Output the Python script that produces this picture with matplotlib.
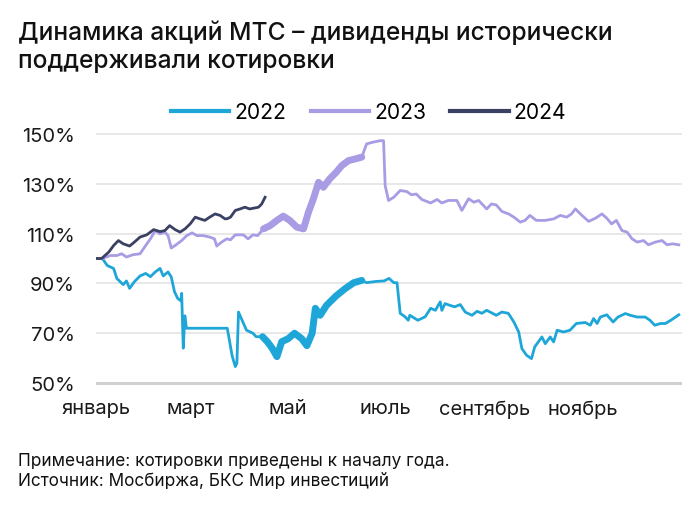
import matplotlib
matplotlib.use("Agg")
import matplotlib.pyplot as plt
import numpy as np

plt.rcParams['font.family'] = ['Inter', 'DejaVu Sans']

# day of year -> price relative to start of year, %
days_2022 = [0, 4, 7, 11, 13, 17, 19, 21, 24, 27.5, 31, 34, 37, 40, 42, 45, 47, 49, 51, 53, 53.5,
             54.5, 55.5, 56.5, 82, 85, 87, 88, 89, 94, 98, 100, 104, 107, 110, 113, 116, 120, 124,
             128.5, 131.7, 135, 137, 140, 144, 150, 155.6, 161, 166, 169, 175, 180, 183, 186, 188,
             190, 193, 195, 196, 201, 205.6, 209, 212, 215, 216, 218, 221, 224, 227.5, 230.6, 234.8,
             238, 241, 244, 247, 250, 253.5, 257.5, 261, 264, 266, 269, 272, 274, 278.5, 280.6,
             283.7, 285.8, 288, 292, 296, 300, 305.6, 308.7, 310.8, 313, 315, 319, 323, 326, 330.6,
             333.7, 338, 343, 346, 349, 352.5, 355.6, 359, 362, 364]
vals_2022 = [100, 100, 97.2, 96, 92, 89.5, 91, 88, 90.7, 93, 94, 92.7, 94.6, 96, 93, 94.6, 92.6, 86.7,
             84, 83, 86, 64, 77, 72, 72, 61, 56.6, 58, 78.5, 71.2, 70, 68.6, 68.6, 66.6, 64, 60.6,
             66.6, 67.8, 70, 67.8, 65, 70, 80, 77.2, 81.2, 85, 87.9, 90.3, 91.2, 90.3, 90.8, 91, 92,
             90.3, 90.3, 78, 76.6, 75.2, 77.2, 75.2, 76.6, 80, 79.2, 82.6, 79.2, 81.9, 81.2, 80.6,
             81.5, 78.5, 77.2, 78.8, 78, 79.2, 78.2, 77.2, 78.5, 78, 74.5, 70.5, 63.8, 61.1, 59.8,
             64.5, 68.5, 65.8, 68.5, 66.5, 71.2, 70.5, 71.2, 73.9, 74.3, 73.2, 75.9, 73.9, 76.5,
             77.4, 74.5, 76.5, 77.9, 77.2, 76.5, 76.5, 75.2, 73.2, 73.9, 73.9, 75.2, 76.5, 77.4]

days_2023 = [0, 4, 9, 13, 16, 19, 23, 27.5, 31, 34, 37, 40, 43, 45, 47, 50, 53.5, 56.7, 60, 63, 67,
             71, 74, 75.4, 78.5, 81.7, 84, 87, 92, 95, 98, 101, 104.6, 108.7, 113, 117, 121, 125.4,
             129.6, 132.7, 135.8, 139, 142, 146, 150, 153.5, 157.7, 162, 166, 169, 173, 177.5,
             179.6, 180.6, 182.7, 186, 190, 194, 197, 200, 203.5, 209, 213, 216, 220, 225.4, 228.5,
             232.7, 236, 239, 244, 247, 250, 253.5, 257.7, 261, 265, 268, 271, 275, 280.6, 285.8,
             290, 294, 297, 299.4, 303.5, 307.7, 312, 316, 319, 322, 325, 328.5, 331.7, 334.8, 338,
             342, 345, 349.4, 353.5, 356.7, 360, 364]
vals_2023 = [100, 100, 101.2, 101.2, 101.9, 100.6, 101.5, 101.9, 105.2, 107.9, 111.2, 109.9, 110.6,
             109.2, 104.2, 105.5, 107.2, 109.2, 110.3, 109.2, 109.2, 108.6, 107.9, 105, 106.6,
             107.9, 107.5, 109.5, 109.5, 107.9, 109.5, 109.2, 111.9, 113.2, 115.3, 117, 115.3, 112.6,
             111.9, 118.6, 124, 130.6, 128.6, 132, 134.6, 137.3, 139.3, 140, 140.7, 146, 146.7,
             147.3, 147.3, 129.3, 123.3, 124.6, 127.3, 126.9, 125.6, 125.9, 123.7, 122.3, 123.7,
             122.3, 123.3, 123.3, 119.3, 124, 122.6, 123.3, 119.9, 121.9, 121.5, 118.9, 117.9,
             116.6, 114.6, 115.3, 117.3, 115.3, 115.3, 115.9, 117.3, 116.6, 117.9, 119.9, 117.3,
             114.9, 116.2, 117.9, 116.2, 113.9, 115.3, 111.2, 110.6, 107.9, 106.6, 107.2, 105.5,
             106.6, 107.2, 105.5, 105.9, 105.5]

days_2024 = [0, 3.5, 8, 11, 14, 17, 21, 24, 27.5, 31.7, 36, 40, 43, 46, 49.4, 52.5, 55.6, 58.8, 62,
             65, 68, 71, 74.4, 77.5, 80.6, 82, 84, 87, 90, 93, 96, 101.5, 103.5, 105.6]
vals_2024 = [100, 100, 102.6, 105.2, 107.2, 105.9, 105, 106.6, 108.6, 109.5, 111.6, 110.8, 111.2,
             113.2, 111.6, 110.6, 111.9, 113.9, 116.6, 115.9, 115.3, 116.6, 117.9, 117.3, 115.9,
             116, 116.6, 119.3, 119.9, 120.6, 119.9, 120.6, 121.9, 124.6]

month_days = [0, 59, 120, 181, 243, 304]
month_labels = ['январь', 'март', 'май', 'июль', 'сентябрь', 'ноябрь']
y_ticks = [50, 70, 90, 110, 130, 150]

c22 = '#1fa6d8'
c23 = '#a99be4'
c24 = '#3b4162'

fig = plt.figure(figsize=(7, 5.06), dpi=100)
ax = fig.add_axes([96 / 700, 0.2312, 586 / 700, 0.5119])

for d, v, c in [(days_2022, vals_2022, c22), (days_2023, vals_2023, c23)]:
    d = np.array(d)
    v = np.array(v)
    ax.plot(d, v, color=c, lw=2.0, solid_joinstyle='round', zorder=3)
    # dense-data stretch in spring looks thicker in the original
    m = (d >= 102) & (d <= 168)
    ax.plot(d[m], v[m], color=c, lw=5, solid_capstyle='round', zorder=3)

ax.plot(days_2024, vals_2024, color=c24, lw=2.0, zorder=4)

ax.set_xlim(0, 366)
ax.set_ylim(48, 152)
ax.set_yticks(y_ticks)
ax.set_yticklabels([f'{t}%' for t in y_ticks])
ax.set_xticks(month_days)
ax.set_xticklabels(month_labels)
ax.tick_params(length=0, labelsize=14.5, colors='#1a1a1a')
ax.tick_params(axis='y', pad=15)
ax.tick_params(axis='x', pad=8)
for s in ax.spines.values():
    s.set_visible(False)
for t in y_ticks:
    ax.axhline(t, color='#d0d0d0' if t == 50 else '#e2e2e2', lw=2.2 if t == 50 else 1.1, zorder=1)

handles = [plt.Line2D([], [], color=c, lw=3) for c in (c22, c23, c24)]
fig.legend(handles, ['2022', '2023', '2024'], loc='center', bbox_to_anchor=(0.527, 0.776),
           ncol=3, frameon=False, fontsize=15.2, handlelength=2.75, handletextpad=0.25,
           columnspacing=1.15)

fig.text(0.026, 0.96, 'Динамика акций МТС – дивиденды исторически\nподдерживали котировки',
         fontsize=17.7, fontweight='medium', va='top', ha='left', color='#111111', linespacing=1.3)
fig.text(0.026, 0.068, 'Примечание: котировки приведены к началу года.\nИсточник: Мосбиржа, БКС Мир инвестиций',
         fontsize=12.4, va='center', ha='left', color='#111111', linespacing=1.25)

fig.savefig('out.png', dpi=100)
